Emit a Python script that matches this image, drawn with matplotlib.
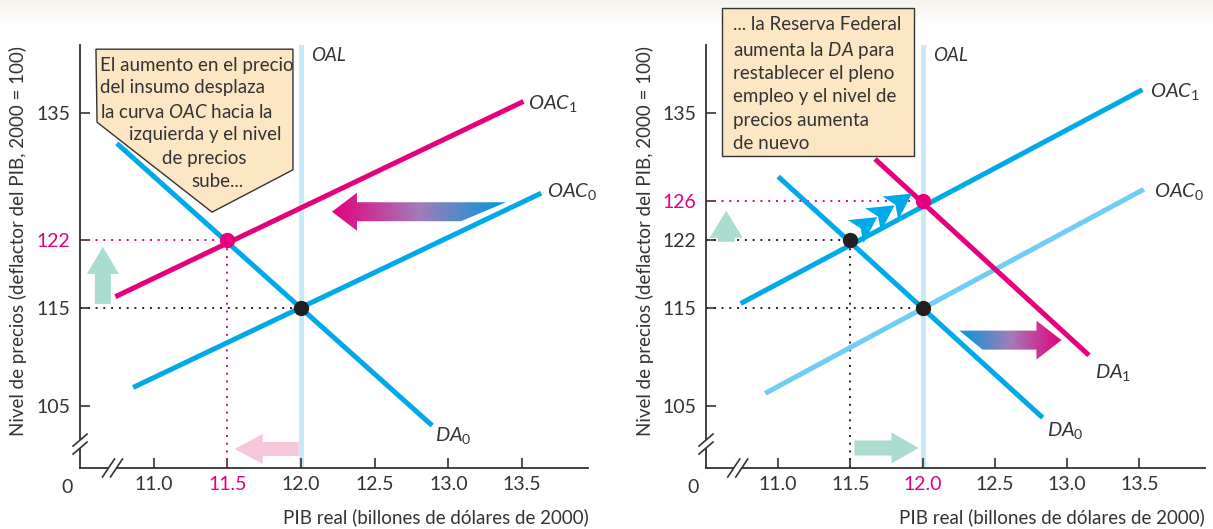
#!/usr/bin/env python3
# -*- coding: utf-8 -*-

"""
Oferta y demanda agregadas: choque de costes y respuesta de la Reserva Federal.
Two panels side by side, saved as out.png.
"""

import matplotlib
matplotlib.use("Agg")
import matplotlib.pyplot as plt
import numpy as np
from matplotlib.patches import Polygon
from matplotlib.colors import LinearSegmentedColormap

plt.rcParams["font.family"] = ["Lato", "DejaVu Sans"]
plt.rcParams["mathtext.fontset"] = "custom"
plt.rcParams["mathtext.rm"] = "Lato"
plt.rcParams["mathtext.it"] = "Lato:italic"

# --- Data ---
X_TICKS = [11.0, 11.5, 12.0, 12.5, 13.0, 13.5]
X_TICK_LABELS = ["11.0", "11.5", "12.0", "12.5", "13.0", "13.5"]
Y_TICKS_LEFT = [105, 115, 122, 135]
Y_TICKS_RIGHT = [105, 115, 122, 126, 135]
OAL_X = 12.0

# left panel: curve endpoints
L_DA0_X, L_DA0_Y = [10.75, 12.89], [131.9, 103.0]
L_OAC0_X, L_OAC0_Y = [10.86, 13.63], [106.9, 126.8]
L_OAC1_X, L_OAC1_Y = [10.74, 13.51], [116.2, 136.2]
L_EQ_OLD = (12.0, 115)
L_EQ_NEW = (11.5, 122)

# right panel: curve endpoints
R_DA0_X, R_DA0_Y = [11.0, 12.83], [128.5, 103.8]
R_DA1_X, R_DA1_Y = [11.67, 13.15], [130.3, 110.2]
R_OAC0_X, R_OAC0_Y = [10.91, 13.53], [106.3, 127.2]
R_OAC1_X, R_OAC1_Y = [10.74, 13.52], [115.5, 137.4]
R_EQ_A = (11.5, 122)
R_EQ_B = (12.0, 115)
R_EQ_C = (12.0, 126)

# Styling
XLIM = (10.5, 13.95)
YLIM = (98.65, 142.0)
BLUE = "#00a9e8"
LIGHT_BLUE = "#71cdf4"
MAGENTA = "#e5007d"
OAL_COLOR = "#c8e9f8"
GREEN = "#abdcd0"
PINK = "#f7c6da"
BOX_FILL = "#fde6c4"
INK = "#333333"
LW = 3.6
FS = 13.5


def px_offset(ax, x, y, dx, dy):
    """Return data coords of (x, y) shifted by (dx, dy) pixels."""
    p = ax.transData.transform((x, y)) + np.array([dx, dy])
    return ax.transData.inverted().transform(p)


def setup_axes(ax, yticks, magenta_x, magenta_y):
    ax.set_xlim(*XLIM)
    ax.set_ylim(*YLIM)
    for side in ("top", "right"):
        ax.spines[side].set_visible(False)
    for side in ("left", "bottom"):
        ax.spines[side].set_color(INK)
        ax.spines[side].set_linewidth(1.3)
    ax.set_xticks(X_TICKS, X_TICK_LABELS)
    ax.set_yticks(yticks, [str(v) for v in yticks])
    ax.tick_params(direction="in", length=7, width=1.2, color=INK,
                   labelsize=14, labelcolor=INK)
    ax.tick_params(axis="x", pad=6)
    ax.tick_params(axis="y", pad=7)
    for lab, v in zip(ax.get_xticklabels(), X_TICKS):
        if v == magenta_x:
            lab.set_color(MAGENTA)
    for lab, v in zip(ax.get_yticklabels(), yticks):
        if v == magenta_y:
            lab.set_color(MAGENTA)
    ax.annotate("0", xy=(0, 0), xycoords="axes fraction", xytext=(-13, -11),
                textcoords="offset pixels", ha="center", va="top",
                fontsize=14, color=INK)
    ax.text(1.0, -0.116, "PIB real (billones de dólares de 2000)",
            transform=ax.transAxes, ha="right", va="center", fontsize=FS,
            color=INK)
    ax.text(-0.122, 0.537, "Nivel de precios (deflactor del PIB, 2000 = 100)",
            transform=ax.transAxes, rotation=90, ha="center", va="center",
            fontsize=FS, color=INK)

    # axis breaks
    for x0, y0, horiz in ((XLIM[0], 101.1, False), (10.72, YLIM[0], True)):
        if horiz:
            g0, g1 = px_offset(ax, x0, y0, -4, 0), px_offset(ax, x0, y0, 4, 0)
        else:
            g0, g1 = px_offset(ax, x0, y0, 0, -4), px_offset(ax, x0, y0, 0, 4)
        ax.plot([g0[0], g1[0]], [g0[1], g1[1]], color="white", lw=4,
                clip_on=False, zorder=5, solid_capstyle="butt")
        for off in (-4, 4):
            if horiz:
                a = px_offset(ax, x0, y0, off - 6, -9)
                b = px_offset(ax, x0, y0, off + 6, 9)
            else:
                a = px_offset(ax, x0, y0, -7, off - 6)
                b = px_offset(ax, x0, y0, 7, off + 6)
            ax.plot([a[0], b[0]], [a[1], b[1]], color=INK, lw=1.2,
                    clip_on=False, zorder=6)

    ax.axvline(OAL_X, color=OAL_COLOR, lw=LW, zorder=1)
    ax.text(OAL_X + 0.07, 140.9, "OAL", fontstyle="italic", fontsize=FS,
            color=INK, ha="left", va="center")


def guide(ax, point, color, vertical=True):
    x, y = point
    ax.plot([XLIM[0], x], [y, y], ls=(0, (1, 3)), lw=1.4, color=color, zorder=2)
    if vertical:
        ax.plot([x, x], [YLIM[0], y], ls=(0, (1, 3)), lw=1.4, color=color,
                zorder=2)


def block_arrow(ax, x, y, length, head_len, head_w, shaft_w, color,
                direction="left", slant=0.0):
    """Flat block arrow; x, y is the tip. Sizes in pixels."""
    s = {"left": 1, "right": -1}.get(direction, 0)
    if direction in ("left", "right"):
        pts = [(0, 0), (s * head_len, head_w), (s * head_len, shaft_w),
               (s * length, shaft_w), (s * (length - slant), -shaft_w),
               (s * head_len, -shaft_w), (s * head_len, -head_w)]
    else:
        pts = [(0, 0), (head_w, -head_len), (shaft_w, -head_len),
               (shaft_w, -length), (-shaft_w, -length), (-shaft_w, -head_len),
               (-head_w, -head_len)]
    verts = [px_offset(ax, x, y, dx, dy) for dx, dy in pts]
    if isinstance(color, list):
        poly = Polygon(verts, closed=True, facecolor="none", edgecolor="none")
        ax.add_patch(poly)
        xs = [v[0] for v in verts]
        ys = [v[1] for v in verts]
        cmap = LinearSegmentedColormap.from_list("grad", color)
        grad = np.linspace(0, 1, 256).reshape(1, -1)
        im = ax.imshow(grad, cmap=cmap, aspect="auto", origin="lower",
                       extent=(min(xs), max(xs), min(ys), max(ys)), zorder=4)
        im.set_clip_path(poly)
    else:
        ax.add_patch(Polygon(verts, closed=True, facecolor=color,
                             edgecolor="none", zorder=4))


def chevrons(ax, start, end, color):
    """Chain of arrowheads running from one equilibrium to the next."""
    a = ax.transData.transform(start)
    b = ax.transData.transform(end)
    u = (b - a) / np.linalg.norm(b - a)
    u = u + np.array([-0.06, 0.08])
    u = u / np.linalg.norm(u)
    n = np.array([-u[1], u[0]])
    inv = ax.transData.inverted()
    for tip_d in (35, 56, 77):
        tip = a + u * tip_d + n * 4
        back = tip - u * 26
        notch = back + u * 6
        pts = [tip, back + n * 14, notch, back - n * 14]
        ax.add_patch(Polygon(inv.transform(pts), closed=True, facecolor=color,
                             edgecolor="none", zorder=4))


def curve_label(ax, x, y, text):
    ax.text(x, y, text, fontsize=FS + 1, color=INK, ha="left", va="center")


def main():
    fig = plt.figure(figsize=(12.13, 5.29), dpi=100)

    # faint band along the top edge
    band = fig.add_axes([0, 0.955, 1, 0.045], zorder=-1)
    band.imshow(np.linspace(0, 1, 64).reshape(-1, 1), aspect="auto",
                cmap=LinearSegmentedColormap.from_list("b", ["white", "#f6f4ec"]),
                origin="lower", extent=(0, 1, 0, 1))
    band.axis("off")

    ax1 = fig.add_axes([0.066, 0.1153, 0.419, 0.80])
    ax2 = fig.add_axes([0.582, 0.1153, 0.411, 0.80])

    # --- left panel ---
    setup_axes(ax1, Y_TICKS_LEFT, 11.5, 122)
    guide(ax1, L_EQ_OLD, "#222222", vertical=False)
    guide(ax1, L_EQ_NEW, MAGENTA)
    ax1.plot(L_DA0_X, L_DA0_Y, color=BLUE, lw=LW, solid_capstyle="butt", zorder=3)
    ax1.plot(L_OAC0_X, L_OAC0_Y, color=BLUE, lw=LW, solid_capstyle="butt", zorder=3)
    ax1.plot(L_OAC1_X, L_OAC1_Y, color=MAGENTA, lw=LW, solid_capstyle="butt", zorder=3)
    ax1.plot(*L_EQ_OLD, "o", ms=10, color="#231f20", zorder=6)
    ax1.plot(*L_EQ_NEW, "o", ms=10, color=MAGENTA, zorder=6)
    curve_label(ax1, 13.54, 136.0, r"$\mathit{OAC}_1$")
    curve_label(ax1, 13.67, 127.0, r"$\mathit{OAC}_0$")
    curve_label(ax1, 12.91, 102.0, r"$\mathit{DA}_0$")
    block_arrow(ax1, 12.21, 124.9, 174, 25, 19, 9.5,
                [MAGENTA, "#a27cb8", "#0098da"], "left", slant=45)
    block_arrow(ax1, 11.55, 100.6, 64, 28, 15, 7, PINK, "left")
    block_arrow(ax1, 10.655, 121.3, 57, 27, 16, 8, GREEN, "up")

    # --- right panel ---
    setup_axes(ax2, Y_TICKS_RIGHT, 12.0, 126)
    guide(ax2, R_EQ_A, "#222222")
    guide(ax2, R_EQ_B, "#222222", vertical=False)
    guide(ax2, R_EQ_C, MAGENTA, vertical=False)
    ax2.plot(R_OAC0_X, R_OAC0_Y, color=LIGHT_BLUE, lw=LW, solid_capstyle="butt", zorder=3)
    ax2.plot(R_DA0_X, R_DA0_Y, color=BLUE, lw=LW, solid_capstyle="butt", zorder=3)
    ax2.plot(R_OAC1_X, R_OAC1_Y, color=BLUE, lw=LW, solid_capstyle="butt", zorder=3)
    ax2.plot(R_DA1_X, R_DA1_Y, color=MAGENTA, lw=LW, solid_capstyle="butt", zorder=3)
    ax2.plot(*R_EQ_A, "o", ms=10, color="#231f20", zorder=6)
    ax2.plot(*R_EQ_B, "o", ms=10, color="#231f20", zorder=6)
    ax2.plot(*R_EQ_C, "o", ms=10, color=MAGENTA, zorder=6)
    chevrons(ax2, R_EQ_A, R_EQ_C, BLUE)
    curve_label(ax2, 13.57, 137.2, r"$\mathit{OAC}_1$")
    curve_label(ax2, 13.6, 127.0, r"$\mathit{OAC}_0$")
    curve_label(ax2, 13.19, 108.4, r"$\mathit{DA}_1$")
    curve_label(ax2, 12.86, 102.5, r"$\mathit{DA}_0$")
    block_arrow(ax2, 12.96, 111.75, 102, 25, 19.5, 9.5,
                ["#0098da", "#a27cb8", MAGENTA], "right", slant=23)
    block_arrow(ax2, 11.97, 100.7, 64, 27, 15.5, 7.5, GREEN, "right")
    block_arrow(ax2, 10.64, 125.0, 31, 27, 16.5, 8.5, GREEN, "up")

    for ax in (ax1, ax2):
        ax.set_xlim(*XLIM)
        ax.set_ylim(*YLIM)

    # --- annotation boxes (figure coords) ---
    left_box = [(0.0791, 0.907), (0.2415, 0.907), (0.2415, 0.679),
                (0.1748, 0.599), (0.0800, 0.769)]
    fig.add_artist(Polygon(left_box, closed=True, transform=fig.transFigure,
                           facecolor=BOX_FILL, edgecolor=INK, lw=1.0, zorder=10))
    left_lines = [
        (0.0824, 0.877, "El aumento en el precio"),
        (0.0824, 0.834, "del insumo desplaza"),
        (0.0824, 0.788, r"la curva $\mathit{OAC}$ hacia la"),
        (0.1063, 0.745, "izquierda y el nivel"),
        (0.1336, 0.701, "de precios"),
        (0.1575, 0.656, "sube..."),
    ]
    for x, y, t in left_lines:
        fig.text(x, y, t, fontsize=13.5, color=INK, ha="left", va="center",
                 zorder=11)

    right_box = [(0.595, 0.985), (0.7535, 0.985), (0.7535, 0.705), (0.595, 0.705)]
    fig.add_artist(Polygon(right_box, closed=True, transform=fig.transFigure,
                           facecolor=BOX_FILL, edgecolor=INK, lw=1.0, zorder=10))
    right_lines = [
        (0.6043, 0.953, "... la Reserva Federal"),
        (0.6043, 0.905, r"aumenta la $\mathit{DA}$ para"),
        (0.6043, 0.862, "restablecer el pleno"),
        (0.6043, 0.817, "empleo y el nivel de"),
        (0.6043, 0.773, "precios aumenta"),
        (0.6043, 0.728, "de nuevo"),
    ]
    for x, y, t in right_lines:
        fig.text(x, y, t, fontsize=13.5, color=INK, ha="left", va="center",
                 zorder=11)

    fig.savefig("out.png", dpi=100)


if __name__ == "__main__":
    main()
